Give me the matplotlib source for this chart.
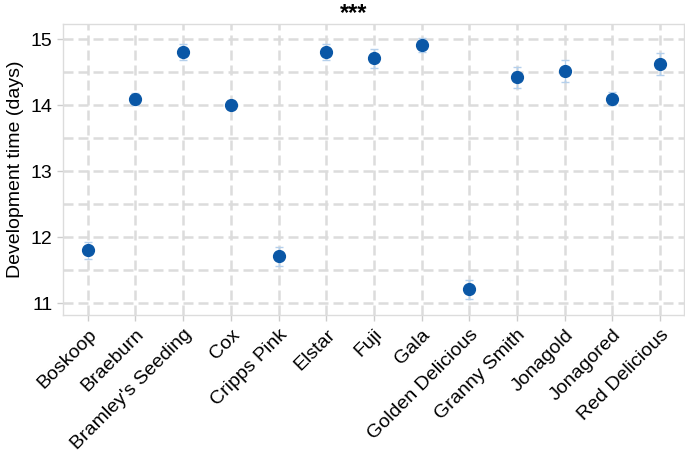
import matplotlib
matplotlib.use("Agg")
import matplotlib.pyplot as plt
import numpy as np

plt.rcParams['font.family'] = ['Liberation Sans', 'DejaVu Sans']

cultivars = ["Boskoop", "Braeburn", "Bramley's Seeding", "Cox", "Cripps Pink", "Elstar",
             "Fuji", "Gala", "Golden Delicious", "Granny Smith", "Jonagold", "Jonagored",
             "Red Delicious"]
dev_time = [11.80, 14.10, 14.81, 14.01, 11.71, 14.81, 14.71, 14.91, 11.21, 14.42, 14.52, 14.10, 14.62]
dev_err = [0.13, 0.09, 0.12, 0.07, 0.14, 0.12, 0.14, 0.11, 0.14, 0.16, 0.17, 0.10, 0.17]
yticks = [11, 12, 13, 14, 15]
title = "***"
ylabel = "Development time (days)"

W, H = 685, 455
fig = plt.figure(figsize=(W / 100, H / 100), dpi=100)
ax = fig.add_axes([63/W, 1 - 315/H, (684 - 63)/W, (315 - 24)/H])

x = np.arange(len(cultivars))
ax.errorbar(x, dev_time, yerr=dev_err, fmt='none', ecolor='#b5d0ec', elinewidth=1.0,
            capsize=3, capthick=1.0, zorder=3)
ax.plot(x, dev_time, 'o', color='#0a57a6', markersize=8.5, zorder=4)

ax.set_xlim(-0.52, 12.5)
ax.set_ylim(10.82, 15.23)
ax.set_yticks(yticks)
ax.set_yticks([11.5, 12.5, 13.5, 14.5], minor=True)
ax.set_yticklabels([str(t) for t in yticks], fontsize=14)
ax.set_xticks(x)
ax.set_xticklabels(cultivars, rotation=45, ha='right', rotation_mode='anchor', fontsize=14)

dash = (0, (4, 2))
ax.grid(True, which='both', axis='y', color='#dcdcdc', linestyle=dash, linewidth=1.8)
ax.grid(True, which='major', axis='x', color='#dcdcdc', linestyle=dash, linewidth=1.8)
ax.set_axisbelow(True)
for s in ax.spines.values():
    s.set_color('#dcdcdc')
    s.set_linewidth(1)
ax.tick_params(axis='both', which='major', color='#cccccc', length=4, width=1)
ax.tick_params(axis='y', which='minor', length=0)
ax.tick_params(axis='x', pad=4)

ax.set_ylabel(ylabel, fontsize=14, labelpad=5)
fig.text(354 / W, 1 - 14 / H, title, fontsize=17, fontweight='bold',
         ha='center', va='center')

fig.savefig("out.png", dpi=100)
